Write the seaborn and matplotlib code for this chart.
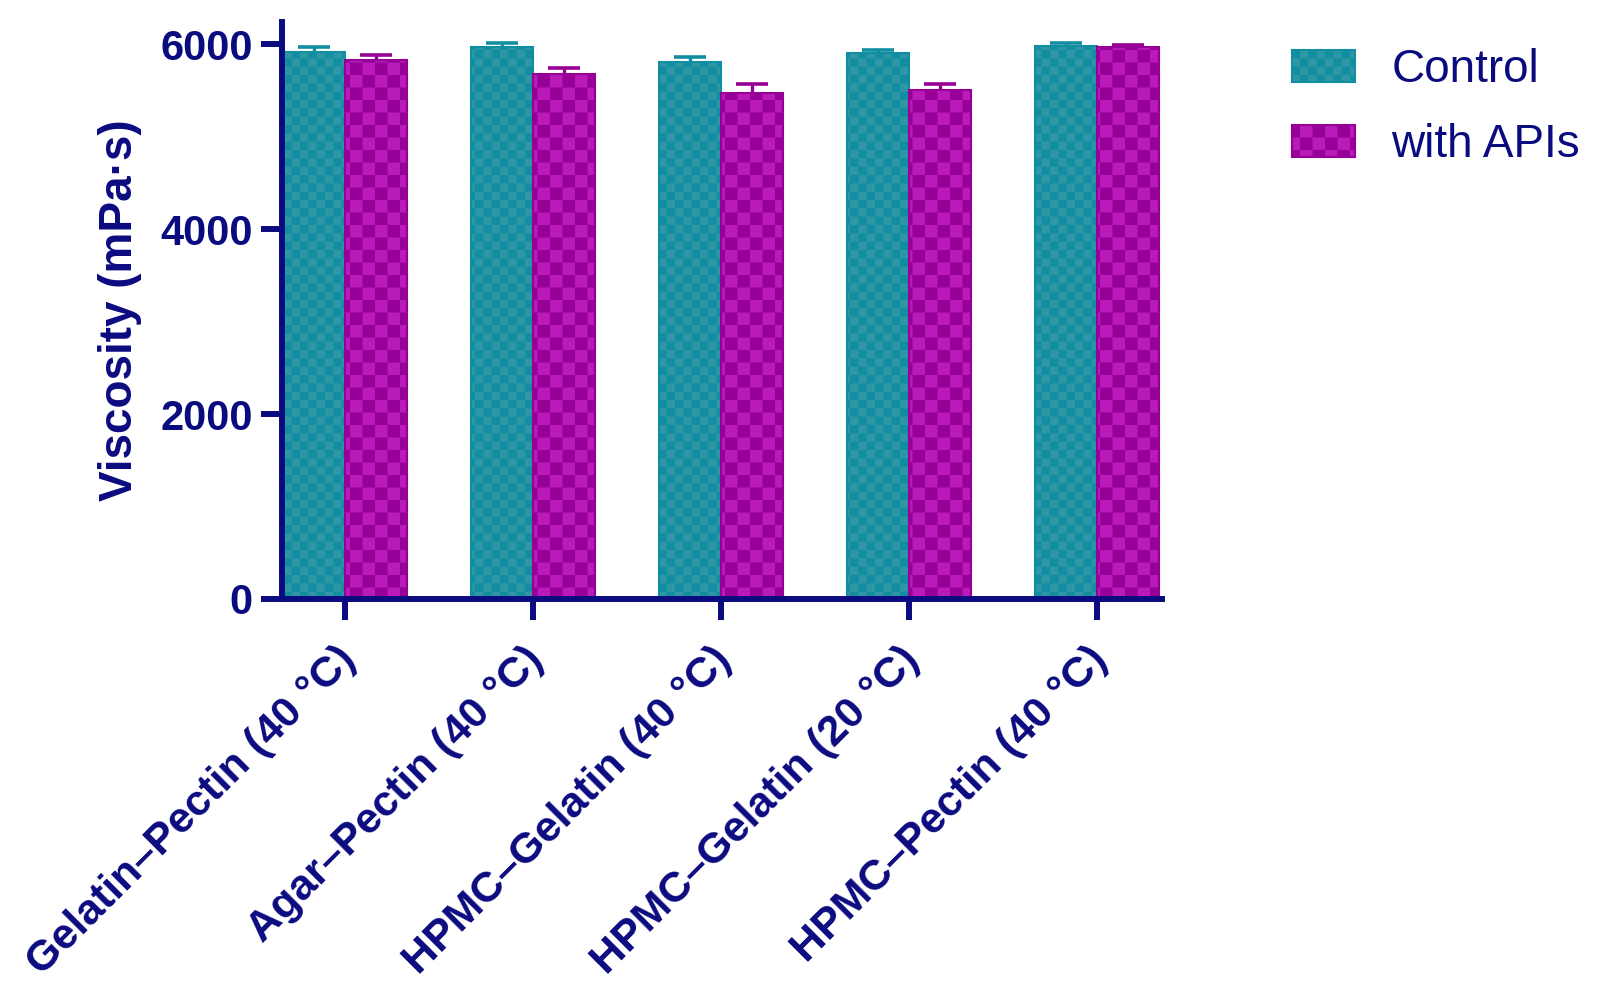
import numpy as np
import pandas as pd
import seaborn as sns
import matplotlib.pyplot as plt
import matplotlib.hatch as mhatch
from matplotlib.path import Path
from matplotlib.transforms import ScaledTranslation


# data
blends = ['Gelatin–Pectin (40 °C)', 'Agar–Pectin (40 °C)', 'HPMC–Gelatin (40 °C)',
          'HPMC–Gelatin (20 °C)', 'HPMC–Pectin (40 °C)']
groups = ['Control', 'with APIs']
control_mean = [5920, 5975, 5805, 5910, 5978]
control_sd = [45, 36, 57, 32, 30]
api_mean = [5830, 5683, 5477, 5510, 5970]
api_sd = [58, 60, 90, 65, 20]
yticks = [0, 2000, 4000, 6000]

navy = '#0b0b80'
face_colors = ['#1aa6ba', '#d400d4']
check_colors = ['#128ea2', '#960096']
check_hatch = ['......', '....']  # 12 and 8 cells per inch


# checkerboard hatch: '.' count sets the cell number
class CheckerHatch(mhatch.HatchPatternBase):
    def __init__(self, hatch, density):
        self.n = 2 * hatch.count('.')
        self.num_vertices = 5 * (self.n * self.n // 2)

    def set_vertices_and_codes(self, vertices, codes):
        d = 1.0 / self.n
        k = 0
        for i in range(self.n):
            for j in range(self.n):
                if (i + j) % 2 == 0:
                    vertices[k:k + 5] = [[i * d, j * d], [(i + 1) * d, j * d],
                                         [(i + 1) * d, (j + 1) * d], [i * d, (j + 1) * d],
                                         [i * d, j * d]]
                    codes[k:k + 5] = [Path.MOVETO, Path.LINETO, Path.LINETO,
                                      Path.LINETO, Path.CLOSEPOLY]
                    k += 5


mhatch._hatch_types = [CheckerHatch]


df = pd.DataFrame({
    'blend': blends * 2,
    'group': [groups[0]] * len(blends) + [groups[1]] * len(blends),
    'viscosity': control_mean + api_mean,
    'sd': control_sd + api_sd,
})

sns.set_style('ticks')
plt.rcParams['font.family'] = ['Liberation Sans', 'DejaVu Sans']
plt.rcParams['hatch.linewidth'] = 0.05

fig = plt.figure(figsize=(15.99, 9.96), dpi=100)
ax = fig.add_axes([0.1764, 0.3986, 0.7267 - 0.1764, 0.9779 - 0.3986])

sns.barplot(data=df, x='blend', y='viscosity', hue='group', hue_order=groups,
            palette=face_colors, width=0.66, gap=0, errorbar=None,
            legend=False, ax=ax, zorder=2)

bar_conts = list(ax.containers)

# style the bars and add upward SD bars
for i, cont in enumerate(bar_conts):
    sub = df[df['group'] == groups[i]]
    xs, hs = [], []
    for bar in cont:
        bar.set_edgecolor(check_colors[i])
        bar.set_linewidth(1.5)
        bar.set_hatch(check_hatch[i])
        xs.append(bar.get_x() + bar.get_width() / 2)
        hs.append(bar.get_height())
    ax.errorbar(xs, hs, yerr=sub['sd'].values, fmt='none', ecolor=check_colors[i],
                elinewidth=2.4, capsize=11.5, capthick=2.6, zorder=1)

ax.set_xlim(-0.335, 4.345)
ax.set_ylim(0, 6240)
ax.set_yticks(yticks)
ax.set_xlabel('')
ax.set_ylabel('Viscosity (mPa·s)', fontsize=33, fontweight='bold', color=navy, labelpad=13)

sns.despine(ax=ax)
for side in ['left', 'bottom']:
    ax.spines[side].set_linewidth(4.3)
    ax.spines[side].set_color(navy)
ax.tick_params(axis='both', width=4.3, length=15, color=navy, labelcolor=navy)
ax.tick_params(axis='y', labelsize=30, pad=6)
ax.tick_params(axis='x', labelsize=31, pad=14)
for lab in ax.get_yticklabels():
    lab.set_fontweight('bold')
for lab in ax.get_xticklabels():
    lab.set_fontweight('bold')
    lab.set_rotation(45)
    lab.set_ha('right')
    lab.set_va('top')
    lab.set_rotation_mode('anchor')
    lab.set_transform(lab.get_transform() + ScaledTranslation(-0.10, 0, fig.dpi_scale_trans))

leg = fig.legend(bar_conts, groups, loc='upper left', bbox_to_anchor=(0.808, 0.952),
                 frameon=False, fontsize=33, borderpad=0, borderaxespad=0,
                 handlelength=1.37, handleheight=0.7, handletextpad=0.8, labelspacing=0.68)
for t in leg.get_texts():
    t.set_color(navy)

fig.savefig('out.png', dpi=100)
